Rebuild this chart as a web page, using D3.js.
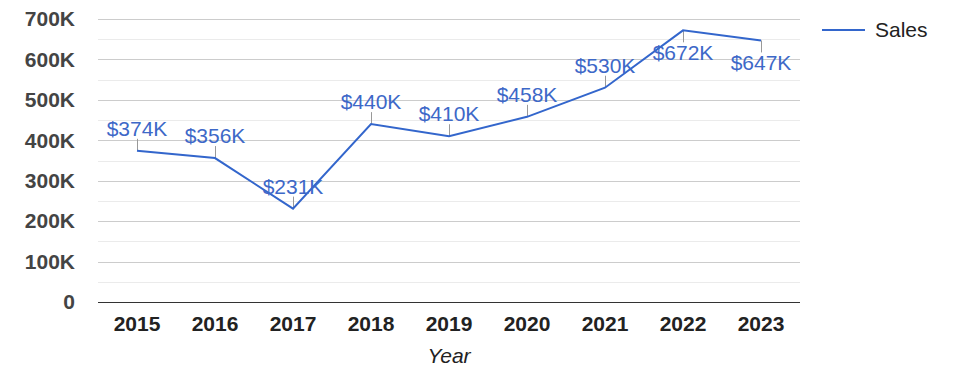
<!DOCTYPE html>
<html>
  <head>
    <meta charset="utf-8">
    <script src="https://cdnjs.cloudflare.com/ajax/libs/d3/7.8.5/d3.min.js"></script>
    <title>Sales</title>
    <style>
      body { margin: 0; background: #fff; }
      text { font-family: Arial, "Liberation Sans", sans-serif; }
    </style>
  </head>
  <body>
    <script>
      var years = ["2015", "2016", "2017", "2018", "2019", "2020", "2021", "2022", "2023"];
      var sales = [374, 356, 231, 440, 410, 458, 530, 672, 647]; // thousands of $
      var yTicks = [0, 100, 200, 300, 400, 500, 600, 700];
      var yMinorTicks = [50, 150, 250, 350, 450, 550, 650];

      var width = 975, height = 378;
      var plotLeft = 98, plotRight = 800, plotTop = 19, plotBottom = 302;

      var svg = d3.select("body").append("svg")
                  .attr("width", width)
                  .attr("height", height);

      var x = d3.scalePoint().domain(years).range([plotLeft, plotRight]).padding(0.5);
      var y = d3.scaleLinear().domain([0, 700]).range([plotBottom, plotTop]);

      // minor gridlines
      svg.selectAll(".minor").data(yMinorTicks).enter().append("line")
         .attr("x1", plotLeft).attr("x2", plotRight)
         .attr("y1", function (d) { return Math.round(y(d)) + 0.5; })
         .attr("y2", function (d) { return Math.round(y(d)) + 0.5; })
         .attr("stroke", "#ebebeb");

      // major gridlines
      svg.selectAll(".major").data(yTicks.slice(1)).enter().append("line")
         .attr("x1", plotLeft).attr("x2", plotRight)
         .attr("y1", function (d) { return Math.round(y(d)) + 0.5; })
         .attr("y2", function (d) { return Math.round(y(d)) + 0.5; })
         .attr("stroke", "#cccccc");

      // baseline
      svg.append("line")
         .attr("x1", plotLeft).attr("x2", plotRight)
         .attr("y1", Math.round(y(0)) + 0.5).attr("y2", Math.round(y(0)) + 0.5)
         .attr("stroke", "#333333");

      // y tick labels
      svg.selectAll(".ylab").data(yTicks).enter().append("text")
         .attr("x", 75)
         .attr("y", function (d) { return y(d); })
         .attr("dy", "0.35em")
         .attr("text-anchor", "end")
         .attr("font-size", 21)
         .attr("font-weight", "bold")
         .attr("fill", "#444444")
         .text(function (d) { return d === 0 ? "0" : d + "K"; });

      // x tick labels
      svg.selectAll(".xlab").data(years).enter().append("text")
         .attr("x", function (d) { return x(d); })
         .attr("y", 324)
         .attr("dy", "0.35em")
         .attr("text-anchor", "middle")
         .attr("font-size", 21)
         .attr("font-weight", "bold")
         .attr("fill", "#222222")
         .text(function (d) { return d; });

      // axis title
      svg.append("text")
         .attr("x", (plotLeft + plotRight) / 2)
         .attr("y", 356)
         .attr("dy", "0.35em")
         .attr("text-anchor", "middle")
         .attr("font-size", 21)
         .attr("font-style", "italic")
         .attr("fill", "#222222")
         .text("Year");

      var pts = years.map(function (d, i) { return { year: d, value: sales[i] }; });
      // labels that would run past the top of the plot go below the point
      function below(d) { return y(d.value) - 31 < plotTop; }

      // annotation stems
      svg.selectAll(".stem").data(pts).enter().append("line")
         .attr("x1", function (d) { return Math.round(x(d.year)) + 0.5; })
         .attr("x2", function (d) { return Math.round(x(d.year)) + 0.5; })
         .attr("y1", function (d) { return y(d.value); })
         .attr("y2", function (d) { return y(d.value) + (below(d) ? 12 : -12); })
         .attr("stroke", "#999999");

      // line
      var line = d3.line()
                   .x(function (d) { return x(d.year); })
                   .y(function (d) { return y(d.value); });

      svg.append("path")
         .datum(pts)
         .attr("d", line)
         .attr("fill", "none")
         .attr("stroke", "#3366cc")
         .attr("stroke-width", 2);

      // annotation labels
      svg.selectAll(".ann").data(pts).enter().append("text")
         .attr("x", function (d) { return x(d.year); })
         .attr("y", function (d) { return y(d.value) + (below(d) ? 30 : -15); })
         .attr("text-anchor", "middle")
         .attr("font-size", 21)
         .attr("fill", "#3d68c8")
         .text(function (d) { return "$" + d.value + "K"; });

      // legend
      svg.append("line")
         .attr("x1", 822).attr("x2", 865)
         .attr("y1", 30).attr("y2", 30)
         .attr("stroke", "#3366cc")
         .attr("stroke-width", 2);
      svg.append("text")
         .attr("x", 875).attr("y", 30)
         .attr("dy", "0.35em")
         .attr("font-size", 21)
         .attr("fill", "#222222")
         .text("Sales");
    </script>
  </body>
</html>
